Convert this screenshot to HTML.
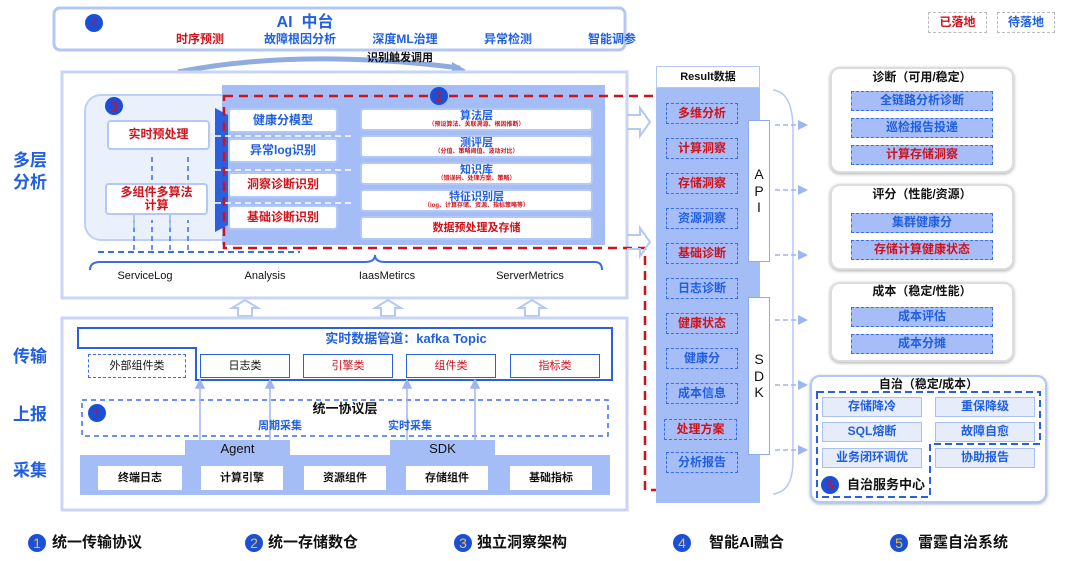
<!DOCTYPE html><html><head><meta charset="utf-8"><style>
*{box-sizing:border-box;margin:0;padding:0}
body{width:1080px;height:561px;background:#fff;position:relative;overflow:hidden;font-family:"Liberation Sans","Noto Sans CJK SC",sans-serif;font-weight:bold}
.a{position:absolute;display:flex;align-items:center;justify-content:center;text-align:center;line-height:1.1}
.wb{background:#fff;border:2px solid #b3c8f5;border-radius:4px}
.r{color:#d0121b}.b{color:#1f5fe0}.k{color:#111}
.c{position:absolute;width:18px;height:18px;border-radius:50%;background:#1a4fd8;color:#d0121b;font-size:14px;display:flex;align-items:center;justify-content:center;font-weight:normal}
.cy{color:#f7c21a}
.dl{border:1.5px dashed #3a6ee8}
.it{background:#a6bdf8;border:1.5px dashed #3a6ee8;font-size:12px}
.pn{position:absolute;background:#fff;border:2px solid #ddd;border-radius:10px;box-shadow:0 1px 3px #aaa}
.g{background:#e6ecfa;border:1.5px solid #a9c0f5;font-size:12px;color:#1f5fe0}
</style></head><body>
<svg width="1080" height="561" style="position:absolute;left:0;top:0">
<rect x="54" y="8" width="571" height="42" rx="6" fill="#fff" stroke="#b3c8f5" stroke-width="3"/>
<path d="M178,72 Q300,48 460,68" fill="none" stroke="#90acdf" stroke-width="5"/>
<polygon points="452,62 466,70 452,74" fill="#90acdf"/>
<rect x="62" y="72" width="565" height="226" fill="#fff" stroke="#c9d6f3" stroke-width="3"/>
<rect x="85" y="95" width="270" height="145" rx="16" fill="#eaf0fc" stroke="#bed0f7" stroke-width="2"/>
<rect x="222" y="85" width="383" height="160" fill="#a5bdf7"/>
<polygon points="215,108 228,115 228,225 215,232" fill="#2a5fe0"/>
<path d="M90,270 Q90,262 100,262 L365,262 Q375,262 375,255 Q375,262 385,262 L595,262 Q602,262 602,270" fill="none" stroke="#3a6ee8" stroke-width="2"/>
<path d="M98,252 L300,252" stroke="#3a6ee8" stroke-width="2" stroke-dasharray="6,4"/>
<g stroke="#3a6ee8" stroke-width="1.5" stroke-dasharray="5,4"><line x1="134" y1="250" x2="134" y2="220"/><line x1="152" y1="250" x2="152" y2="220"/><line x1="170" y1="250" x2="170" y2="220"/><line x1="188" y1="250" x2="188" y2="220"/><line x1="152" y1="180" x2="152" y2="154"/><line x1="188" y1="180" x2="188" y2="154"/></g>
<g stroke="#fff" stroke-width="1.5" stroke-dasharray="6,4"><line x1="215" y1="136" x2="352" y2="136"/><line x1="215" y1="170" x2="352" y2="170"/><line x1="215" y1="203" x2="352" y2="203"/></g>
<path d="M224,96 L740,96 L740,490 L645,490 L645,248 L224,248 Z" fill="none" stroke="#d0121b" stroke-width="2.5" stroke-dasharray="9,6"/>
<g fill="none" stroke="#b3c8f5" stroke-width="2"><path d="M627,115 L640,115 L640,108 L650,122 L640,136 L640,129 L627,129"/><path d="M627,235 L640,235 L640,228 L650,242 L640,256 L640,249 L627,249"/>
<path d="M238,316 L238,308 L232,308 L245,300 L258,308 L252,308 L252,316 Z"/><path d="M381,316 L381,308 L375,308 L388,300 L401,308 L395,308 L395,316 Z"/><path d="M525,316 L525,308 L519,308 L532,300 L545,308 L539,308 L539,316 Z"/></g>
<rect x="62" y="318" width="565" height="192" fill="#fff" stroke="#c9d6f3" stroke-width="3"/>
<path d="M78,328 L612,328 L612,380 L196,380 L196,348 L78,348 Z" fill="#fff" stroke="#2a5fe0" stroke-width="2"/>
<rect x="82" y="400" width="526" height="36" fill="none" stroke="#3a6ee8" stroke-width="1.5" stroke-dasharray="5,4"/>
<path d="M80,455 L185,455 L185,440 L290,440 L290,455 L390,455 L390,440 L495,440 L495,455 L610,455 L610,495 L80,495 Z" fill="#a5bdf7"/>
<g stroke="#9db6ef" stroke-width="1.5" fill="#9db6ef"><line x1="200" y1="440" x2="200" y2="386"/><polygon points="196,388 200,380 204,388"/><line x1="270" y1="440" x2="270" y2="386"/><polygon points="266,388 270,380 274,388"/><line x1="407" y1="440" x2="407" y2="386"/><polygon points="403,388 407,380 411,388"/><line x1="475" y1="440" x2="475" y2="386"/><polygon points="471,388 475,380 479,388"/>
<line x1="134" y1="215" x2="134" y2="228"/><line x1="170" y1="215" x2="170" y2="228"/></g>
<rect x="656" y="88" width="104" height="415" fill="#a5bdf7"/>
<path d="M773,90 Q793,92 793,130 L793,460 Q793,492 773,494" fill="none" stroke="#b3c8f5" stroke-width="1.5"/>
<g stroke="#9db6ef" stroke-width="1.5" stroke-dasharray="5,3" fill="#9db6ef"><line x1="775" y1="125" x2="800" y2="125"/><line x1="775" y1="190" x2="800" y2="190"/><line x1="775" y1="255" x2="800" y2="255"/><line x1="775" y1="320" x2="800" y2="320"/><line x1="775" y1="385" x2="800" y2="385"/><line x1="775" y1="450" x2="800" y2="450"/></g>
<g fill="#9db6ef"><polygon points="798,120 808,125 798,130"/><polygon points="798,185 808,190 798,195"/><polygon points="798,250 808,255 798,260"/><polygon points="798,315 808,320 798,325"/><polygon points="798,380 808,385 798,390"/><polygon points="798,445 808,450 798,455"/></g>
</svg>
<div class="c" style="left:85px;top:14px">4</div>
<div class="a b" style="left:255px;top:14px;width:100px;font-size:16px">AI&nbsp; 中台</div>
<div class="a r" style="left:170px;top:33px;width:60px;font-size:12px">时序预测</div>
<div class="a b" style="left:255px;top:33px;width:90px;font-size:12px">故障根因分析</div>
<div class="a b" style="left:365px;top:33px;width:80px;font-size:12px">深度ML治理</div>
<div class="a b" style="left:478px;top:33px;width:60px;font-size:12px">异常检测</div>
<div class="a b" style="left:582px;top:33px;width:60px;font-size:12px">智能调参</div>
<div class="a k" style="left:360px;top:52px;width:80px;font-size:11px">识别触发调用</div>
<div class="a b" style="left:8px;top:150px;width:44px;font-size:17px;line-height:1.3">多层<br>分析</div>
<div class="a b" style="left:8px;top:348px;width:44px;font-size:17px">传输</div>
<div class="a b" style="left:8px;top:406px;width:44px;font-size:17px">上报</div>
<div class="a b" style="left:8px;top:462px;width:44px;font-size:17px">采集</div>
<div class="c" style="left:105px;top:97px">3</div>
<div class="c" style="left:430px;top:87px">2</div>
<div class="a wb r" style="left:107px;top:120px;width:103px;height:30px;font-size:12px">实时预处理</div>
<div class="a wb r" style="left:105px;top:183px;width:103px;height:32px;font-size:12px">多组件多算法<br>计算</div>
<div class="a wb b" style="left:228px;top:108px;width:110px;height:25px;font-size:12px">健康分模型</div>
<div class="a wb b" style="left:228px;top:138px;width:110px;height:25px;font-size:12px">异常log识别</div>
<div class="a wb r" style="left:228px;top:172px;width:110px;height:26px;font-size:12px">洞察诊断识别</div>
<div class="a wb r" style="left:228px;top:205px;width:110px;height:25px;font-size:12px">基础诊断识别</div>
<div class="a wb" style="left:360px;top:108px;width:233px;height:23px;flex-direction:column"><span class="b" style="font-size:11px">算法层</span><span class="r" style="font-size:6px">（预设算法、关联溯源、根因推断）</span></div>
<div class="a wb" style="left:360px;top:135px;width:233px;height:23px;flex-direction:column"><span class="b" style="font-size:11px">测评层</span><span class="r" style="font-size:6px">（分值、策略阈值、波动对比）</span></div>
<div class="a wb" style="left:360px;top:162px;width:233px;height:23px;flex-direction:column"><span class="b" style="font-size:11px">知识库</span><span class="r" style="font-size:6px">（错误码、处理方案、策略）</span></div>
<div class="a wb" style="left:360px;top:189px;width:233px;height:23px;flex-direction:column"><span class="b" style="font-size:11px">特征识别层</span><span class="r" style="font-size:6px">（log、计算存储、资源、指标策略等）</span></div>
<div class="a wb r" style="left:360px;top:216px;width:233px;height:24px;font-size:11px">数据预处理及存储</div>
<div class="a k" style="left:105px;top:270px;width:80px;font-size:11px;font-weight:normal">ServiceLog</div>
<div class="a k" style="left:225px;top:270px;width:80px;font-size:11px;font-weight:normal">Analysis</div>
<div class="a k" style="left:347px;top:270px;width:80px;font-size:11px;font-weight:normal">IaasMetircs</div>
<div class="a k" style="left:485px;top:270px;width:90px;font-size:11px;font-weight:normal">ServerMetrics</div>
<div class="a b" style="left:200px;top:330px;width:412px;height:18px;font-size:13px">实时数据管道：kafka Topic</div>
<div class="a dl k" style="left:88px;top:354px;width:98px;height:24px;font-size:11px;font-weight:normal">外部组件类</div>
<div class="a k" style="left:200px;top:354px;width:90px;height:24px;font-size:11px;font-weight:normal;border:1.5px solid #2a5fe0">日志类</div>
<div class="a r" style="left:303px;top:354px;width:90px;height:24px;font-size:11px;font-weight:normal;border:1.5px solid #2a5fe0">引擎类</div>
<div class="a r" style="left:406px;top:354px;width:90px;height:24px;font-size:11px;font-weight:normal;border:1.5px solid #2a5fe0">组件类</div>
<div class="a r" style="left:510px;top:354px;width:90px;height:24px;font-size:11px;font-weight:normal;border:1.5px solid #2a5fe0">指标类</div>
<div class="c" style="left:88px;top:404px">1</div>
<div class="a k" style="left:300px;top:402px;width:90px;font-size:13px">统一协议层</div>
<div class="a b" style="left:250px;top:420px;width:60px;font-size:11px">周期采集</div>
<div class="a b" style="left:380px;top:420px;width:60px;font-size:11px">实时采集</div>
<div class="a k" style="left:185px;top:442px;width:105px;font-size:13px;font-weight:normal">Agent</div>
<div class="a k" style="left:390px;top:442px;width:105px;font-size:13px;font-weight:normal">SDK</div>
<div class="a k" style="left:98px;top:466px;width:84px;height:24px;background:#fff;font-size:11px">终端日志</div>
<div class="a k" style="left:201px;top:466px;width:82px;height:24px;background:#fff;font-size:11px">计算引擎</div>
<div class="a k" style="left:304px;top:466px;width:82px;height:24px;background:#fff;font-size:11px">资源组件</div>
<div class="a k" style="left:406px;top:466px;width:82px;height:24px;background:#fff;font-size:11px">存储组件</div>
<div class="a k" style="left:510px;top:466px;width:82px;height:24px;background:#fff;font-size:11px">基础指标</div>
<div class="c cy" style="left:28px;top:534px">1</div><div class="a k" style="left:52px;top:534px;width:110px;height:18px;font-size:15px;justify-content:flex-start">统一传输协议</div>
<div class="c cy" style="left:245px;top:534px">2</div><div class="a k" style="left:268px;top:534px;width:110px;height:18px;font-size:15px;justify-content:flex-start">统一存储数仓</div>
<div class="c cy" style="left:454px;top:534px">3</div><div class="a k" style="left:477px;top:534px;width:110px;height:18px;font-size:15px;justify-content:flex-start">独立洞察架构</div>
<div class="c cy" style="left:673px;top:534px">4</div><div class="a k" style="left:709px;top:534px;width:110px;height:18px;font-size:15px;justify-content:flex-start">智能AI融合</div>
<div class="c cy" style="left:890px;top:534px">5</div><div class="a k" style="left:918px;top:534px;width:110px;height:18px;font-size:15px;justify-content:flex-start">雷霆自治系统</div>
<div class="a r" style="left:928px;top:12px;width:59px;height:21px;border:1.5px dashed #bbb;font-size:12px">已落地</div>
<div class="a b" style="left:997px;top:12px;width:58px;height:21px;border:1.5px dashed #bbb;font-size:12px">待落地</div>
<div class="a k" style="left:656px;top:66px;width:104px;height:22px;background:#fff;border:1.5px solid #b3c8f5;font-size:11px">Result数据</div>
<div class="a it r" style="left:666px;top:103px;width:72px;height:21px">多维分析</div>
<div class="a it r" style="left:666px;top:138px;width:72px;height:21px">计算洞察</div>
<div class="a it r" style="left:666px;top:173px;width:72px;height:21px">存储洞察</div>
<div class="a it b" style="left:666px;top:208px;width:72px;height:21px">资源洞察</div>
<div class="a it r" style="left:666px;top:243px;width:72px;height:21px">基础诊断</div>
<div class="a it b" style="left:666px;top:278px;width:72px;height:21px">日志诊断</div>
<div class="a it r" style="left:666px;top:313px;width:72px;height:21px">健康状态</div>
<div class="a it b" style="left:666px;top:348px;width:72px;height:21px">健康分</div>
<div class="a it b" style="left:666px;top:383px;width:72px;height:21px">成本信息</div>
<div class="a it r" style="left:664px;top:419px;width:73px;height:21px">处理方案</div>
<div class="a it b" style="left:666px;top:452px;width:72px;height:21px">分析报告</div>
<div class="a k" style="left:748px;top:120px;width:22px;height:142px;background:#fff;border:1px solid #8fabf0;font-size:14px;font-weight:normal;line-height:1.2">A<br>P<br>I</div>
<div class="a k" style="left:748px;top:297px;width:22px;height:158px;background:#fff;border:1px solid #8fabf0;font-size:14px;font-weight:normal;line-height:1.2">S<br>D<br>K</div>
<div class="pn" style="left:830px;top:67px;width:184px;height:106px"></div>
<div class="a k" style="left:830px;top:71px;width:184px;font-size:12px">诊断（可用/稳定）</div>
<div class="a it b" style="left:851px;top:91px;width:142px;height:20px">全链路分析诊断</div>
<div class="a it b" style="left:851px;top:118px;width:142px;height:20px">巡检报告投递</div>
<div class="a it r" style="left:851px;top:145px;width:142px;height:20px">计算存储洞察</div>
<div class="pn" style="left:830px;top:184px;width:184px;height:86px"></div>
<div class="a k" style="left:830px;top:188px;width:184px;font-size:12px">评分（性能/资源）</div>
<div class="a it b" style="left:851px;top:213px;width:142px;height:20px">集群健康分</div>
<div class="a it r" style="left:851px;top:240px;width:142px;height:20px">存储计算健康状态</div>
<div class="pn" style="left:830px;top:282px;width:184px;height:80px"></div>
<div class="a k" style="left:830px;top:285px;width:184px;font-size:12px">成本（稳定/性能）</div>
<div class="a it b" style="left:851px;top:307px;width:142px;height:20px">成本评估</div>
<div class="a it b" style="left:851px;top:334px;width:142px;height:20px">成本分摊</div>
<div class="pn" style="left:810px;top:375px;width:237px;height:128px;border-color:#b3c8f5"></div>
<div class="a k" style="left:810px;top:378px;width:237px;font-size:12px">自治（稳定/成本）</div>
<svg width="1080" height="561" style="position:absolute;left:0;top:0"><path d="M817,392 L1040,392 L1040,444 L930,444 L930,497 L817,497 Z" fill="none" stroke="#2a5fe0" stroke-width="2" stroke-dasharray="7,4"/></svg>
<div class="a g" style="left:822px;top:397px;width:100px;height:20px">存储降冷</div>
<div class="a g" style="left:935px;top:397px;width:100px;height:20px">重保降级</div>
<div class="a g" style="left:822px;top:422px;width:100px;height:20px">SQL熔断</div>
<div class="a g" style="left:935px;top:422px;width:100px;height:20px">故障自愈</div>
<div class="a g" style="left:822px;top:448px;width:100px;height:20px">业务闭环调优</div>
<div class="a g" style="left:935px;top:448px;width:100px;height:20px">协助报告</div>
<div class="c" style="left:821px;top:476px">5</div>
<div class="a k" style="left:842px;top:476px;width:88px;height:18px;font-size:13px">自治服务中心</div>
</body></html>
